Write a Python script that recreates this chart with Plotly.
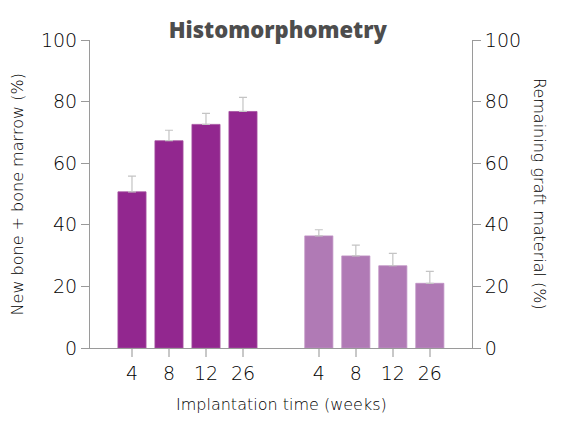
import plotly.graph_objects as go

weeks = ["4", "8", "12", "26"]
new_bone = [50.7, 67.3, 72.6, 76.8]
new_bone_err = [5.1, 3.4, 3.6, 4.6]
graft = [36.4, 29.9, 26.7, 21.0]
graft_err = [2.0, 3.5, 4.0, 3.9]
left_pos = [0, 1, 2, 3]
right_pos = [5.05, 6.05, 7.05, 8.05]

FONT = "DejaVu Sans"
AX = "#9a9a9a"
TXT = "#000000"

fig = go.Figure()
fig.add_trace(go.Bar(
    x=left_pos, y=new_bone, width=0.76,
    marker=dict(color="#92278f", line=dict(width=0.8, color="#a4509f")),
    error_y=dict(type="data", symmetric=False, array=new_bone_err,
                 arrayminus=[0] * 4, color="#c4c4c4", thickness=1.2, width=4),
    showlegend=False,
))
fig.add_trace(go.Bar(
    x=right_pos, y=graft, width=0.76, yaxis="y2",
    marker=dict(color="#b07ab5", line=dict(width=0.8, color="#c092c4")),
    error_y=dict(type="data", symmetric=False, array=graft_err,
                 arrayminus=[0] * 4, color="#c4c4c4", thickness=1.2, width=4),
    showlegend=False,
))

tickfont = dict(size=19, family=FONT, weight=200, color=TXT)
labfont = dict(size=16, family=FONT, weight=200, color=TXT)

fig.update_layout(
    width=553, height=423,
    margin=dict(l=82, r=89, t=32, b=83),
    paper_bgcolor="white", plot_bgcolor="white",
    barmode="overlay",
    font=dict(family=FONT, color=TXT, weight=200),
    xaxis=dict(
        range=[-1.135, 9.19], tickvals=left_pos + right_pos, ticktext=weeks + weeks,
        showline=True, linecolor=AX, linewidth=1, ticks="outside", ticklen=8,
        tickwidth=1.5, tickcolor="#c8c8c8", showgrid=False, zeroline=False,
        tickfont=tickfont, automargin=False,
    ),
    yaxis=dict(
        range=[0, 100], tickvals=[0, 20, 40, 60, 80, 100], showline=True,
        linecolor=AX, linewidth=1, ticks="outside", ticklen=8, tickcolor=AX,
        showgrid=False, zeroline=False, tickfont=tickfont, automargin=False,
    ),
    yaxis2=dict(
        range=[0, 100], tickvals=[0, 20, 40, 60, 80, 100], overlaying="y",
        side="right", showline=True, linecolor=AX, linewidth=1, ticks="outside",
        ticklen=8, tickcolor=AX, showgrid=False, zeroline=False,
        tickfont=tickfont, automargin=False,
    ),
    title=dict(text="Histomorphometry", x=0.488, xanchor="center", y=0.947,
               yanchor="middle",
               font=dict(size=22, family="Open Sans", weight=800, color="#4d4d4d")),
    annotations=[
        dict(text="New bone + bone marrow (%)", xref="paper", yref="paper",
             x=-0.19, y=0.5, xanchor="center", yanchor="middle", textangle=-90,
             showarrow=False, font=labfont),
        dict(text="Remaining graft material (%)", xref="paper", yref="paper",
             x=1.178, y=0.5, xanchor="center", yanchor="middle", textangle=90,
             showarrow=False, font=labfont),
        dict(text="Implantation time (weeks)", xref="paper", yref="paper",
             x=0.5, y=-0.185, xanchor="center", yanchor="middle",
             showarrow=False, font=labfont),
    ],
)

fig.write_html("out.html")
